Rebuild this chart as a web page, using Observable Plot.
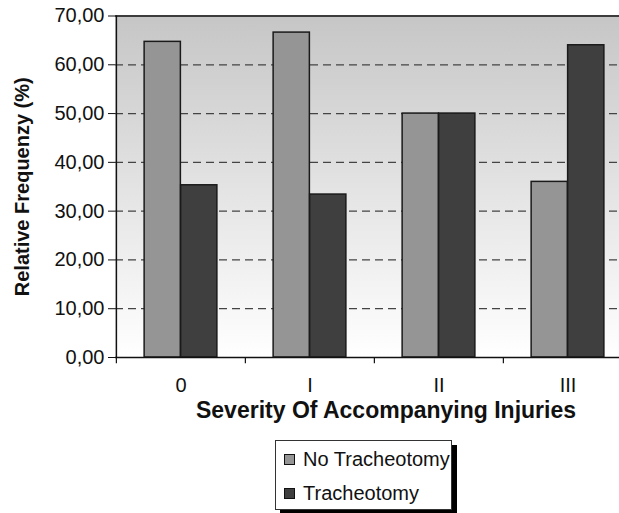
<!DOCTYPE html>
<html>
<head>
<meta charset="utf-8">
<script src="https://cdn.jsdelivr.net/npm/d3@7"></script>
<script src="https://cdn.jsdelivr.net/npm/@observablehq/plot@0.6"></script>
<style>
  html, body { margin: 0; padding: 0; background: #fff; overflow: hidden; }
  body { width: 619px; height: 513px; font-family: "Liberation Sans", Arial, sans-serif; }
  #chart svg { overflow: hidden; display: block; }
  #legend {
    position: absolute; left: 275px; top: 440px; width: 177px; height: 70px;
    border: 1px solid #333; box-shadow: 5px 5px 0 #000; background: #fff; box-sizing: border-box;
  }
  .item { position: absolute; left: 8px; font-size: 20px; color: #111; line-height: 20px; white-space: nowrap; }
  .sw { display: inline-block; width: 9px; height: 9px; border: 1px solid #111; margin-right: 8px; vertical-align: 1px; }
</style>
</head>
<body>
<div id="chart"></div>
<div id="legend"></div>
<script>
const categories = ["0", "I", "II", "III"];
const noTracheotomy = [64.7, 66.6, 50.0, 36.0];
const tracheotomy = [35.3, 33.4, 50.0, 64.0];
const seriesNames = ["No Tracheotomy", "Tracheotomy"];
const seriesColors = ["#959595", "#3f3f3f"];
const yTicks = [0, 10, 20, 30, 40, 50, 60, 70];
const gridTicks = [10, 20, 30, 40, 50, 60];
const xTitle = "Severity Of Accompanying Injuries";
const yTitle = "Relative Frequenzy (%)";

const rows = categories.map((c, i) => ({cat: c, a: noTracheotomy[i], b: tracheotomy[i]}));

const W = 619, H = 435, ML = 115, MR = -13, MT = 15.5, MB = 78;
const band = (W - MR - ML) / categories.length;
const barW = 36.5;
const off = (band - 2 * barW) / 2;

const svg = Plot.plot({
  width: W, height: H,
  marginLeft: ML, marginRight: MR, marginTop: MT, marginBottom: MB,
  style: {fontFamily: "Liberation Sans, Arial, sans-serif", background: "transparent", overflow: "hidden"},
  x: {domain: categories, padding: 0, axis: null},
  y: {domain: [0, 70], axis: null},
  marks: [
    Plot.frame({fill: "url(#bggrad)", stroke: null}),
    Plot.ruleY(gridTicks, {stroke: "#444", strokeWidth: 1.2, strokeDasharray: "8,5"}),
    Plot.ruleY([70], {stroke: "#3c3c3c", strokeWidth: 2}),
    Plot.barY(rows, {x: "cat", y: "a", fill: seriesColors[0], stroke: "#1a1a1a", strokeWidth: 1.5,
      insetLeft: off, insetRight: band - off - barW}),
    Plot.barY(rows, {x: "cat", y: "b", fill: seriesColors[1], stroke: "#1a1a1a", strokeWidth: 1.5,
      insetLeft: off + barW, insetRight: off}),
    Plot.ruleY([0], {stroke: "#111", strokeWidth: 1.5}),
    Plot.ruleX(categories, {x: d => d, dx: -band / 2, y1: -1.3, y2: 0, stroke: "#111", strokeWidth: 1.2}),
    Plot.ruleX([categories[0]], {x: d => d, dx: -band / 2, y1: 0, y2: 70, stroke: "#111", strokeWidth: 1.5}),
    Plot.axisY({ticks: yTicks, tickSize: 7, tickPadding: 4, fontSize: 20, tickFormat: d => d.toFixed(2).replace(".", ","), stroke: "#111", color: "#111"}),
    Plot.axisX({tickSize: 0, tickPadding: 20, fontSize: 20, label: null, color: "#111"}),
    Plot.text([xTitle], {frameAnchor: "bottom", dy: 60, dx: 12, fontSize: 23, fontWeight: "bold", fill: "#111"}),
    Plot.text([yTitle], {frameAnchor: "left", textAnchor: "middle", dx: -93, rotate: -90, fontSize: 20, fontWeight: "bold", fill: "#111"})
  ]
});

const ns = "http://www.w3.org/2000/svg";
const defs = document.createElementNS(ns, "defs");
const lg = document.createElementNS(ns, "linearGradient");
lg.setAttribute("id", "bggrad");
lg.setAttribute("x1", "0"); lg.setAttribute("y1", "0"); lg.setAttribute("x2", "0"); lg.setAttribute("y2", "1");
[["0", "#c6c6c6"], ["0.55", "#e6e6e6"], ["1", "#ffffff"]].forEach(([o, c]) => {
  const s = document.createElementNS(ns, "stop");
  s.setAttribute("offset", o); s.setAttribute("stop-color", c);
  lg.appendChild(s);
});
defs.appendChild(lg);
svg.insertBefore(defs, svg.firstChild);
document.getElementById("chart").appendChild(svg);

const legend = document.getElementById("legend");
seriesNames.forEach((n, i) => {
  const d = document.createElement("div");
  d.className = "item";
  d.style.top = (8 + i * 33.5) + "px";
  d.innerHTML = `<span class="sw" style="background:${seriesColors[i]}"></span>${n}`;
  legend.appendChild(d);
});
</script>
</body>
</html>
